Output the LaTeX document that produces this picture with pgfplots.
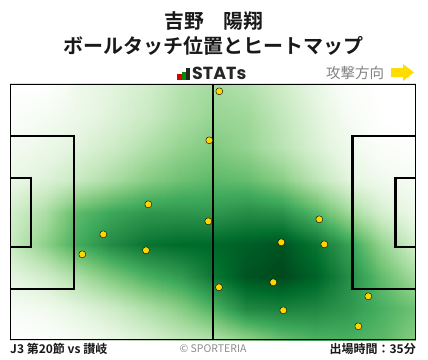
\documentclass[border=0pt]{standalone}
\usepackage{fontspec}
\setmainfont{Noto Sans CJK JP}[BoldFont={Noto Sans CJK JP Bold}]
\newfontfamily\poppins{Poppins}
\usepackage{pgfplots}
\pgfplotsset{compat=1.18}
\usepgfplotslibrary{patchplots}
\definecolor{dotyellow}{RGB}{255,215,0}
\definecolor{arrowyellow}{RGB}{255,221,0}
\definecolor{txtgray}{RGB}{130,130,130}
\definecolor{ttl}{RGB}{25,25,25}
\begin{document}
\begin{tikzpicture}[x=1pt,y=1pt]
\path[use as bounding box, fill=white] (0,0) rectangle (428,359);
\begin{axis}[at={(10pt,19pt)}, anchor=south west, scale only axis,
  width=406pt, height=256pt, view={0}{90},
  xmin=10, xmax=416, ymin=84, ymax=340, y dir=reverse,
  hide axis, clip=true,
  colormap={sgreens}{rgb255(0)=(255,255,255) rgb255(8)=(247,252,245)
    rgb255(17)=(229,245,224) rgb255(26)=(199,233,192) rgb255(35)=(161,217,155)
    rgb255(44)=(116,196,118) rgb255(53)=(65,171,93) rgb255(62)=(35,139,69)
    rgb255(71)=(0,109,44) rgb255(80)=(0,68,27)},
  point meta min=0, point meta max=1]
\addplot3[surf, shader=interp, patch type=bilinear, mesh/cols=13] table {
x y z
10 84 0
44 84 0
78 84 0.15
112 84 0.22
146 84 0.28
180 84 0.37
213 84 0.43
247 84 0.38
281 84 0.3
315 84 0.19
349 84 0.05
383 84 0
416 84 0
10 116 0.05
44 116 0.11
78 116 0.17
112 116 0.24
146 116 0.31
180 116 0.4
213 116 0.46
247 116 0.44
281 116 0.34
315 116 0.23
349 116 0.1
383 116 0
416 116 0
10 148 0.12
44 148 0.17
78 148 0.23
112 148 0.3
146 148 0.39
180 148 0.47
213 148 0.52
247 148 0.47
281 148 0.37
315 148 0.26
349 148 0.15
383 148 0.06
416 148 0.02
10 180 0.18
44 180 0.24
78 180 0.32
112 180 0.41
146 180 0.5
180 180 0.56
213 180 0.6
247 180 0.58
281 180 0.5
315 180 0.36
349 180 0.22
383 180 0.14
416 180 0.1
10 212 0.28
44 212 0.4
78 212 0.6
112 212 0.68
146 212 0.73
180 212 0.74
213 212 0.73
247 212 0.77
281 212 0.75
315 212 0.62
349 212 0.44
383 212 0.27
416 212 0.17
10 244 0.32
44 244 0.48
78 244 0.66
112 244 0.78
146 244 0.86
180 244 0.89
213 244 0.9
247 244 0.93
281 244 0.96
315 244 0.86
349 244 0.7
383 244 0.46
416 244 0.28
10 276 0.21
44 276 0.29
78 276 0.41
112 276 0.53
146 276 0.64
180 276 0.72
213 276 0.85
247 276 0.96
281 276 0.99
315 276 0.92
349 276 0.77
383 276 0.58
416 276 0.42
10 308 0.1
44 308 0.14
78 308 0.22
112 308 0.3
146 308 0.4
180 308 0.5
213 308 0.63
247 308 0.79
281 308 0.81
315 308 0.79
349 308 0.73
383 308 0.64
416 308 0.56
10 340 0
44 340 0.03
78 340 0.11
112 340 0.18
146 340 0.25
180 340 0.33
213 340 0.38
247 340 0.47
281 340 0.57
315 340 0.63
349 340 0.64
383 340 0.6
416 340 0.5
};
% pitch lines
\addplot3[black, line width=1.8pt, no marks] coordinates {(10,84,1) (416,84,1) (416,340,1) (10,340,1) (10,84,1)};
\addplot3[black, line width=2pt, no marks] coordinates {(213,84,1) (213,340,1)};
\addplot3[black, line width=2.2pt, no marks] coordinates {(10,136,1) (74,136,1) (74,289,1) (10,289,1)};
\addplot3[black, line width=2.2pt, no marks] coordinates {(10,178,1) (31,178,1) (31,247,1) (10,247,1)};
\addplot3[black, line width=2.2pt, no marks] coordinates {(416,136,1) (352.5,136,1) (352.5,289,1) (416,289,1)};
\addplot3[black, line width=2.2pt, no marks] coordinates {(416,178,1) (395.5,178,1) (395.5,247,1) (416,247,1)};
% ball touches
\addplot3[only marks, mark=*, mark size=3.5pt, mark options={fill=dotyellow, draw=none}] coordinates {
(209.3,140.3,1) (148.3,204.3,1) (208.3,221.3,1) (103.3,234.3,1) (146,250.3,1) (82.3,254.3,1)
(219.3,91.3,1) (319.3,219.3,1) (281.3,242.3,1) (324.3,244.3,1) (219,287.3,1) (273.3,282.3,1)
(368.3,296.3,1) (283.3,310.3,1) (358.3,326.3,1)};
\end{axis}
% titles
\node[anchor=base, inner sep=0, text=ttl, font=\fontsize{19.8}{22}\selectfont\bfseries] at (214,330.5) {吉野　陽翔};
\node[anchor=base, inner sep=0, text=ttl, font=\fontsize{20}{22}\selectfont\bfseries] at (213.5,305.5) {ボールタッチ位置とヒートマップ};
% STATs logo
\fill[red!85!black] (177,279) rectangle (181.7,285);
\fill[green!55!black] (181.7,279) rectangle (185.7,287.3);
\fill[black!85] (185.7,279) rectangle (190,291);
\node[anchor=base west, inner sep=0, text=black!85, font=\poppins\fontsize{17.5}{19}\selectfont\bfseries] at (192,279) {STATs};
% attack direction
\node[anchor=base west, inner sep=0, text=txtgray, font=\fontsize{14.5}{16}\selectfont] at (326,280) {攻撃方向};
\fill[arrowyellow] (390.7,282.3) rectangle (403.2,290.7);
\fill[arrowyellow] (403,295) -- (414,286.5) -- (403,278) -- cycle;
% footer
\node[anchor=base west, inner sep=0, text=ttl, font=\fontsize{12}{14}\selectfont\bfseries] at (10,6) {J3 第20節 vs 讃岐};
\node[anchor=base, inner sep=0, text=black!45, font=\fontsize{10.5}{12}\selectfont] at (213,7) {© SPORTERIA};
\node[anchor=base east, inner sep=0, text=ttl, font=\fontsize{12}{14}\selectfont\bfseries] at (416,6) {出場時間：35分};
\end{tikzpicture}
\end{document}
